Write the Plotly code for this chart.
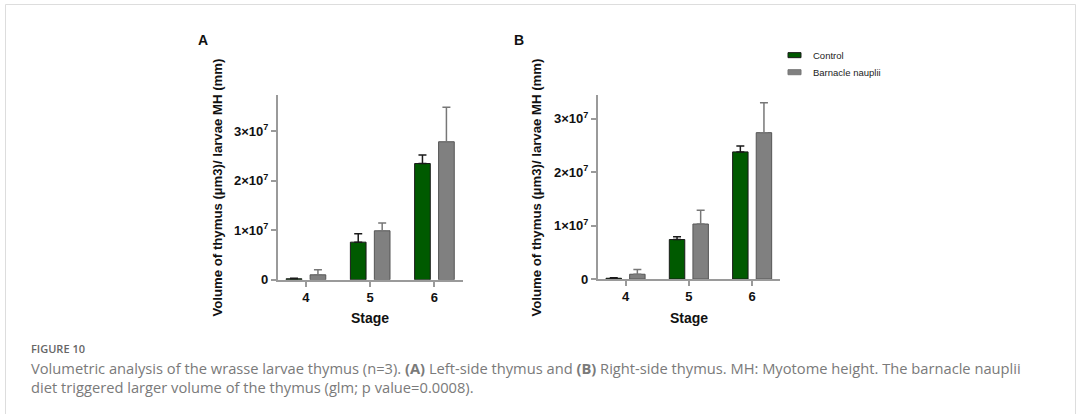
import plotly.graph_objects as go

W, H = 1077, 414

stages = ["4", "5", "6"]
series_names = ["Control", "Barnacle nauplii"]

# Panel A (left-side thymus)
a_control = [2.0e5, 7.6e6, 2.35e7]
a_control_err = [1.0e5, 1.7e6, 1.7e6]
a_barnacle = [1.0e6, 9.9e6, 2.79e7]
a_barnacle_err = [1.0e6, 1.6e6, 7.0e6]

# Panel B (right-side thymus)
b_control = [1.5e5, 7.4e6, 2.38e7]
b_control_err = [1.0e5, 5.0e5, 1.1e6]
b_barnacle = [9.0e5, 1.03e7, 2.74e7]
b_barnacle_err = [9.0e5, 2.6e6, 5.6e6]

y_tickvals = [0, 1e7, 2e7, 3e7]
y_ticktext = ["<b>0</b>", "<b>1×10<sup>7</sup></b>", "<b>2×10<sup>7</sup></b>", "<b>3×10<sup>7</sup></b>"]
x_ticktext = ["<b>4</b>", "<b>5</b>", "<b>6</b>"]

GREEN = "#005a00"
GREY = "#808080"
AXIS = "#9a9a9a"
FONT = "Liberation Sans, Arial, sans-serif"
VS = 0.978  # vertical compensation


def px(x):
    return x / W


def py(y):
    return 1 - (y / VS) / H


fig = go.Figure()

panels = [
    ("x", "y", a_control, a_control_err, a_barnacle, a_barnacle_err),
    ("x2", "y2", b_control, b_control_err, b_barnacle, b_barnacle_err),
]
for xa, ya, c, ce, b, be in panels:
    fig.add_trace(go.Bar(
        x=stages, y=c, name=series_names[0], xaxis=xa, yaxis=ya,
        marker=dict(color=GREEN, line=dict(color="#1a1a1a", width=1)),
        error_y=dict(type="data", array=ce, arrayminus=[0] * len(ce), symmetric=False,
                     color="#1a1a1a", thickness=1.5, width=4),
        showlegend=False,
    ))
    fig.add_trace(go.Bar(
        x=stages, y=b, name=series_names[1], xaxis=xa, yaxis=ya,
        marker=dict(color=GREY, line=dict(color="#555555", width=1)),
        error_y=dict(type="data", array=be, arrayminus=[0] * len(be), symmetric=False,
                     color="#777777", thickness=1.5, width=4),
        showlegend=False,
    ))

common_x = dict(
    type="category", range=[-0.44, 2.44], showline=True, linecolor=AXIS, linewidth=1.5,
    ticks="outside", tickcolor=AXIS, ticklen=5, tickwidth=1.5, showgrid=False, zeroline=False,
    tickmode="array", tickvals=stages, ticktext=x_ticktext,
    tickfont=dict(family=FONT, size=13, color="#111", weight="bold"),
)
common_y = dict(
    showline=True, linecolor=AXIS, linewidth=1.5, ticks="outside", tickcolor=AXIS,
    ticklen=5, tickwidth=1.5, showgrid=False, zeroline=False,
    tickmode="array", tickvals=y_tickvals, ticktext=y_ticktext,
    tickfont=dict(family=FONT, size=13, color="#111", weight="bold"),
)

fig.update_layout(
    width=W, height=H, margin=dict(l=0, r=0, t=0, b=0),
    paper_bgcolor="white", plot_bgcolor="white",
    barmode="group", bargap=0.254, bargroupgap=0.346,
    font=dict(family=FONT),
    xaxis=dict(domain=[px(277.7), px(462.7)], anchor="y", **common_x),
    yaxis=dict(domain=[py(279), py(95)], anchor="x", range=[0, 3.73e7], **common_y),
    xaxis2=dict(domain=[px(597.7), px(780)], anchor="y2", **common_x),
    yaxis2=dict(domain=[py(278.3), py(95)], anchor="x2", range=[0, 3.44e7], **common_y),
)

ann = []
ytitle = "<b>Volume of thymus (µm3)/ larvae MH (mm)</b>"
for xc in (218, 537):
    ann.append(dict(x=px(xc), y=py(187), xref="paper", yref="paper", text=ytitle,
                    textangle=-90, showarrow=False, font=dict(family=FONT, size=13.2, color="#111"),
                    xanchor="center", yanchor="middle"))
for xc in (370, 688.5):
    ann.append(dict(x=px(xc), y=py(317), xref="paper", yref="paper", text="<b>Stage</b>",
                    showarrow=False, font=dict(family=FONT, size=14, color="#111"),
                    xanchor="center", yanchor="middle"))
for lbl, xc in (("A", 203), ("B", 519)):
    ann.append(dict(x=px(xc), y=py(40), xref="paper", yref="paper", text="<b>%s</b>" % lbl,
                    showarrow=False, font=dict(family=FONT, size=14, color="#111"),
                    xanchor="center", yanchor="middle"))

# legend (drawn manually)
shapes = []
for i, (name, col, lc) in enumerate(zip(series_names, [GREEN, GREY], ["#1a1a1a", "#777"])):
    yc = 55 + 17 * i
    shapes.append(dict(type="rect", xref="paper", yref="paper",
                       x0=px(788), x1=px(801), y0=py(yc + 2.5), y1=py(yc - 2.5),
                       fillcolor=col, line=dict(color=lc, width=1)))
    ann.append(dict(x=px(811), y=py(yc), xref="paper", yref="paper", text=name,
                    showarrow=False, font=dict(family=FONT, size=9.5, color="#222"),
                    xanchor="left", yanchor="middle"))

# outer frame
shapes.append(dict(type="rect", xref="paper", yref="paper",
                   x0=px(5.5), x1=px(1075.5), y0=py(440), y1=py(4.5),
                   line=dict(color="#dddddd", width=1), fillcolor="rgba(0,0,0,0)"))

CAP = "Open Sans, Lato, sans-serif"
ann.append(dict(x=px(29), y=py(348), xref="paper", yref="paper", text="FIGURE 10",
                showarrow=False, font=dict(family=CAP, size=11, color="#666", weight=600),
                xanchor="left", yanchor="middle"))
ann.append(dict(x=px(29), y=py(367), xref="paper", yref="paper",
                text="Volumetric analysis of the wrasse larvae thymus (n=3). <b>(A)</b> Left-side thymus and "
                     "<b>(B)</b> Right-side thymus. MH: Myotome height. The barnacle nauplii",
                showarrow=False, font=dict(family=CAP, size=14.7, color="#7a7a7a"),
                xanchor="left", yanchor="middle"))
ann.append(dict(x=px(29), y=py(385.5), xref="paper", yref="paper",
                text="diet triggered larger volume of the thymus (glm; p value=0.0008).",
                showarrow=False, font=dict(family=CAP, size=14.7, color="#7a7a7a"),
                xanchor="left", yanchor="middle"))

fig.update_layout(annotations=ann, shapes=shapes)

fig.write_html("out.html")
